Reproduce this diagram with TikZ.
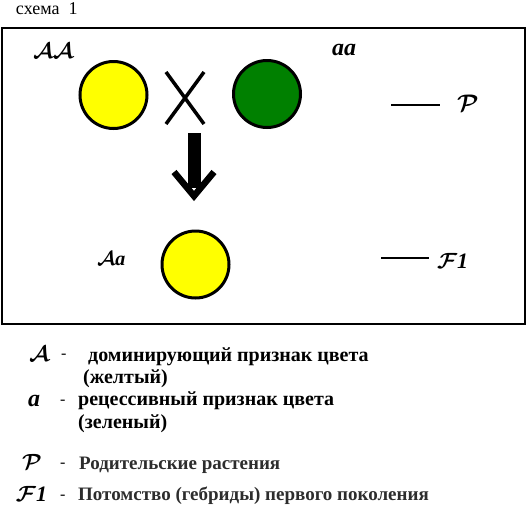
\RequirePackage{fix-cm}
\documentclass[tikz,border=0pt]{standalone}
\usepackage{fontspec}
\setmainfont{Liberation Serif}
\definecolor{pyellow}{RGB}{255,255,0}
\definecolor{pgreen}{RGB}{0,128,0}
\definecolor{legendgray}{RGB}{45,45,45}
\newcommand{\fs}[1]{\fontsize{#1}{#1}\selectfont}
\newcommand{\calA}{{\boldmath$\mathcal{A}$}}
\newcommand{\calP}{{\boldmath$\mathcal{P}$}}
\newcommand{\calF}{{\boldmath$\mathcal{F}$}\textbf{\textit{1}}}
\begin{document}
\begin{tikzpicture}[x=1pt,y=-1pt,
  pea/.style={circle,draw=black,line width=3pt,inner sep=0pt,minimum size=67pt},
  lbl/.style={anchor=base west,inner sep=0pt,outer sep=0pt},
  legend/.style={anchor=base west,inner sep=0pt,font=\fs{20}\bfseries},
  legendsmall/.style={anchor=base west,inner sep=0pt,font=\fs{19}\bfseries,text=legendgray},
  rule/.style={line width=1.5pt}]
\useasboundingbox (0,0) rectangle (529,507);
\fill[white] (0,0) rectangle (529,507);
% title
\node[lbl,font=\fs{18}] (title) at (16,14) {схема\ \ 1};
% frame
\draw[line width=2pt] (2,28) rectangle (525,324);
% parents
\node[lbl,font=\fs{22}] (AA) at (33,58) {\calA\calA};
\node[lbl,font=\fs{24}\bfseries\itshape] (aa) at (332,55) {aa};
\node[pea,fill=pyellow] (p1) at (113.5,95) {};
\node[pea,fill=pgreen] (p2) at (267,94) {};
\coordinate (x1) at (166,72);
\coordinate (x2) at (204,124);
\coordinate (x3) at (166,124);
\coordinate (x4) at (204,72);
\draw[line width=3.5pt] (x1) -- (x2) (x3) -- (x4);
\coordinate (Pl) at (391,105);
\coordinate (Pr) at (440,105);
\draw[rule] (Pl) -- (Pr);
\node[lbl,font=\fs{24}] (P) at (457,111) {\calP};
% arrow
\fill (187.5,133) rectangle (200.5,188);
\draw[line width=6.5pt,line join=miter] (174,172) -- (194,196) -- (214,172);
% offspring
\node[pea,fill=pyellow] (f1) at (195.5,264.5) {};
\node[lbl,font=\fs{20}] (Aa) at (97,265) {\calA\textbf{\textit{a}}};
\coordinate (Fl) at (381,258);
\coordinate (Fr) at (429,258);
\draw[rule] (Fl) -- (Fr);
\node[lbl,font=\fs{22}] (F1) at (437,268) {\calF};
% legend
\node[lbl,font=\fs{22}] (lA) at (29,361) {\calA};
\node[lbl,font=\fs{16}] (dA) at (61,358) {-};
\node[legend] (tA1) at (88,361) {доминирующий признак цвета};
\node[legend] (tA2) at (83,383) {(желтый)};
\node[lbl,font=\fs{24}\bfseries\itshape] (la) at (28,406) {a};
\node[lbl,font=\fs{16}] (da) at (60,404) {-};
\node[legend] (ta1) at (78,405) {рецессивный признак цвета};
\node[legend] (ta2) at (78,428) {(зеленый)};
\node[lbl,font=\fs{22}] (lP) at (22,469) {\calP};
\node[lbl,font=\fs{16}] (dP) at (60,467) {-};
\node[legendsmall] (tP) at (79,469) {Родительские растения};
\node[lbl,font=\fs{22}] (lF) at (16,501) {\calF};
\node[lbl,font=\fs{16}] (dF) at (60,499) {-};
\node[legendsmall] (tF) at (78,500) {Потомство (гебриды) первого поколения};
\end{tikzpicture}
\end{document}
